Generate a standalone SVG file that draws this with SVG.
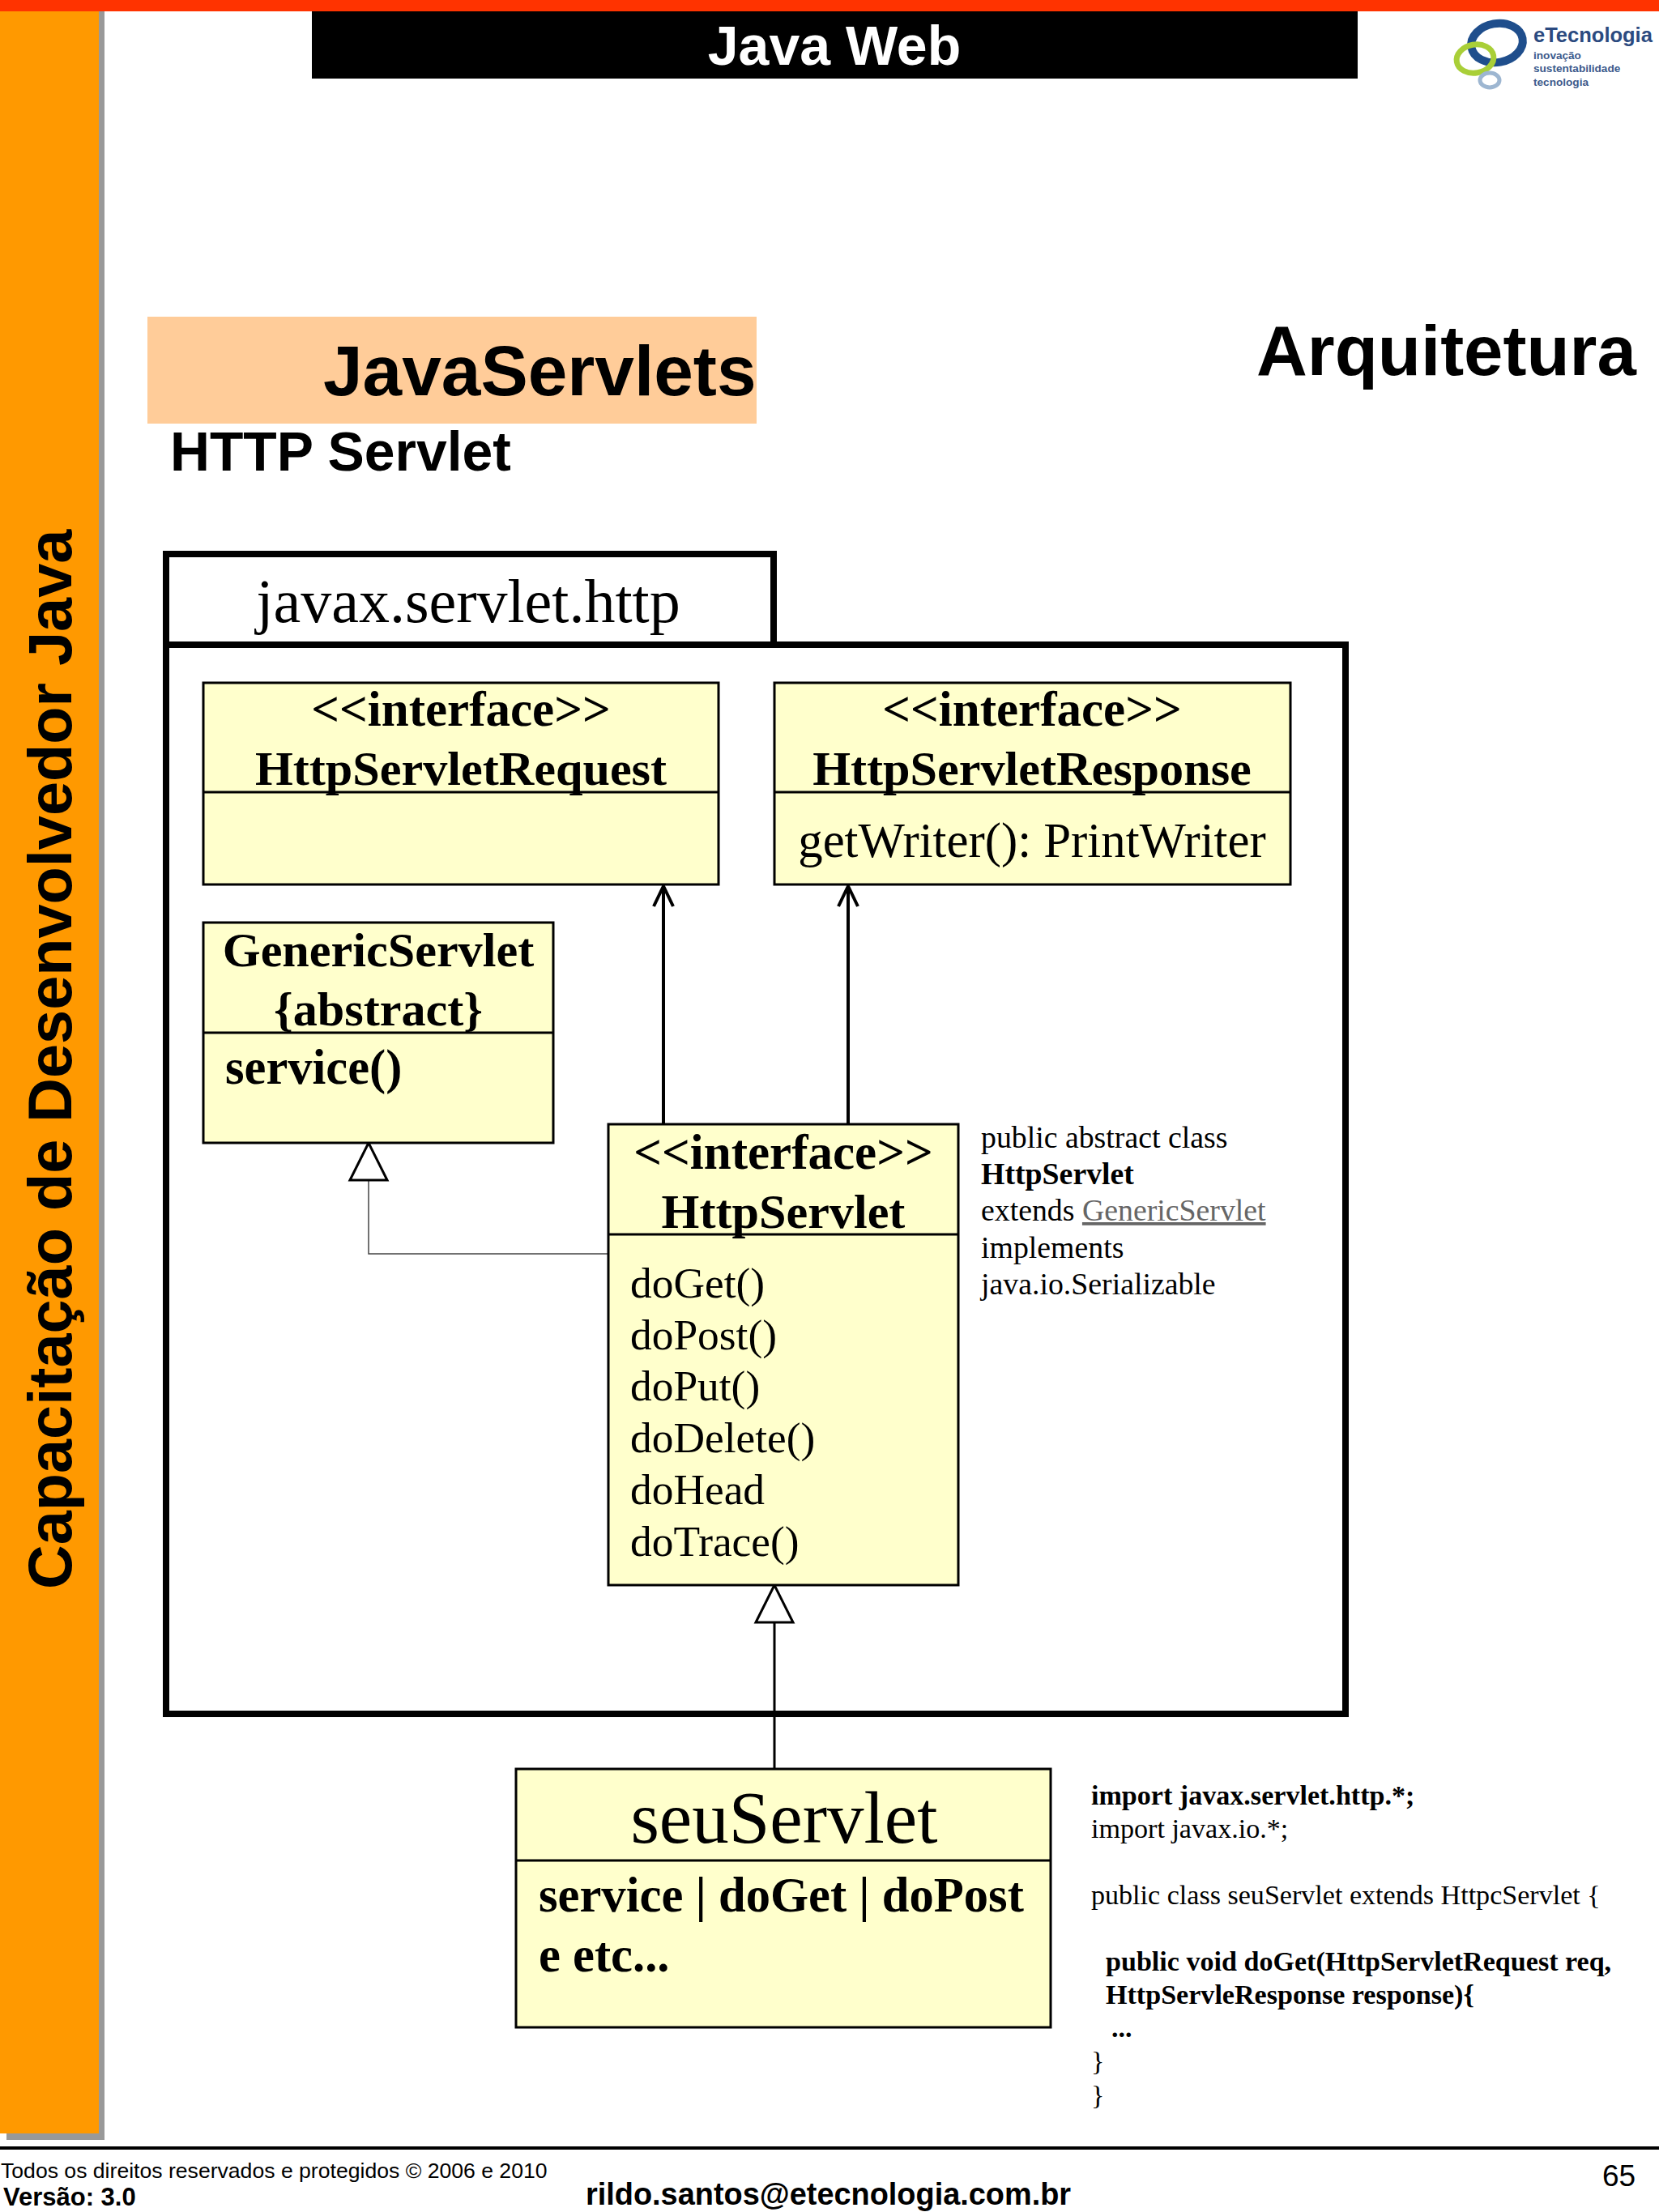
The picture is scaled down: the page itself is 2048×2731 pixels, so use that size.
<svg xmlns="http://www.w3.org/2000/svg" width="2048" height="2731" viewBox="0 0 2048 2731">
<style>
.s{font-family:"Liberation Serif",serif;fill:#000}
.a{font-family:"Liberation Sans",sans-serif;fill:#000}
.b{font-weight:bold}
.m{text-anchor:middle}
.box{fill:#ffffcc;stroke:#000;stroke-width:3}
.t61{font-size:61px}
.t60{font-size:60.200px}
.t53{font-size:53.400px}
.t38{font-size:37.800px}
.t34{font-size:34.100px}
.c{fill:none;stroke:#000;stroke-width:4}
.d{fill:none;stroke:#000;stroke-width:3}
.g{fill:none;stroke:#444;stroke-width:1.500}
</style>
<defs>
<marker id="open" markerUnits="userSpaceOnUse" markerWidth="32" markerHeight="28" refX="27" refY="14" orient="auto"><path d="M2 2L27 14L2 26" fill="none" stroke="#000" stroke-width="4"/></marker>
</defs>
<rect width="2048" height="2731" fill="#fff"/>
<g id="frame">
<rect x="8" y="0" width="121" height="2642" fill="#999"/>
<rect x="0" y="0" width="122" height="2634" fill="#ff9900"/>
<rect x="0" y="0" width="2048" height="14" fill="#ff3300"/>
<rect x="385" y="14" width="1291" height="83" fill="#000"/>
<text class="a b m" x="1030" y="80" font-size="68" style="fill:#fff">Java Web</text>
<text class="a b" transform="translate(88 1962) rotate(-90)" font-size="75.700">Capacitação de Desenvolvedor Java</text>
<rect x="0" y="2650" width="2048" height="4" fill="#000"/>
<text class="a" x="1" y="2689" font-size="26.600">Todos os direitos reservados e protegidos © 2006 e 2010</text>
<text class="a b" x="4" y="2723" font-size="31">Versão: 3.0</text>
<text class="a b" x="723" y="2722" font-size="37.900">rildo.santos@etecnologia.com.br</text>
<text class="a" x="1978" y="2699" font-size="37">65</text>
</g>
<g id="logo">
<ellipse cx="1848" cy="53" rx="32" ry="24" fill="none" stroke="#1f4e8c" stroke-width="10" transform="rotate(-10 1848 53)"/>
<ellipse cx="1821" cy="72.500" rx="23" ry="17.500" fill="none" stroke="#a9cf38" stroke-width="7" transform="rotate(-10 1821 72.500)"/>
<ellipse cx="1839" cy="99" rx="12" ry="9" fill="none" stroke="#9db6d1" stroke-width="5"/>
<text class="a b" x="1893" y="52" font-size="25.500" style="fill:#2b4a80">eTecnologia</text>
<text class="a b" x="1893" y="73" font-size="13.600" style="fill:#3c5a8c">inovação</text>
<text class="a b" x="1893" y="89" font-size="13.600" style="fill:#3c5a8c">sustentabilidade</text>
<text class="a b" x="1893" y="106" font-size="13.600" style="fill:#3c5a8c">tecnologia</text>
</g>
<g id="titles">
<rect x="182" y="391" width="752" height="132" fill="#ffcc99"/>
<text class="a b" x="399" y="488" font-size="87.400">JavaServlets</text>
<text class="a b" x="210" y="581" font-size="67.800">HTTP Servlet</text>
<text class="a b" x="1551" y="463" font-size="87">Arquitetura</text>
</g>
<g id="package">
<path d="M205 796V684H955V796M205 796H1661V2116H205Z" fill="none" stroke="#000" stroke-width="8"/>
<text class="s m" x="578" y="768" font-size="76">javax.servlet.http</text>
</g>
<g id="connectors">
<path class="c" d="M819 1388V1094" marker-end="url(#open)"/>
<path class="c" d="M1047 1388V1094" marker-end="url(#open)"/>
<path class="g" d="M751 1548H455V1457"/>
<path d="M455 1411L432 1457H478Z" fill="#fff" stroke="#000" stroke-width="3"/>
<path class="d" d="M956 2184V2003"/>
<path d="M956 1957L933 2003H979Z" fill="#fff" stroke="#000" stroke-width="3"/>
</g>
<g id="HttpServletRequest">
<rect class="box" x="251" y="843" width="636" height="249"/>
<path class="d" d="M251 978H887"/>
<text class="s b m t61" x="569" y="896">&lt;&lt;interface&gt;&gt;</text>
<text class="s b m t60" x="569" y="969">HttpServletRequest</text>
</g>
<g id="HttpServletResponse">
<rect class="box" x="956" y="843" width="637" height="249"/>
<path class="d" d="M956 978H1593"/>
<text class="s b m t61" x="1274" y="896">&lt;&lt;interface&gt;&gt;</text>
<text class="s b m t60" x="1274" y="969">HttpServletResponse</text>
<text class="s m" font-size="60.800" x="1274" y="1058">getWriter(): PrintWriter</text>
</g>
<g id="GenericServlet">
<rect class="box" x="251" y="1139" width="432" height="272"/>
<path class="d" d="M251 1275H683"/>
<text class="s b m t60" x="467" y="1193">GenericServlet</text>
<text class="s b m t60" x="467" y="1266">{abstract}</text>
<text class="s b" font-size="60.500" x="278" y="1338">service()</text>
</g>
<g id="HttpServlet">
<rect class="box" x="751" y="1388" width="432" height="569"/>
<path class="d" d="M751 1524H1183"/>
<text class="s b m t61" x="967" y="1443">&lt;&lt;interface&gt;&gt;</text>
<text class="s b m t60" x="967" y="1516">HttpServlet</text>
<text class="s t53" x="778" y="1602">doGet()</text>
<text class="s t53" x="778" y="1666">doPost()</text>
<text class="s t53" x="778" y="1729">doPut()</text>
<text class="s t53" x="778" y="1793">doDelete()</text>
<text class="s t53" x="778" y="1857">doHead</text>
<text class="s t53" x="778" y="1921">doTrace()</text>
</g>
<g id="seuServlet">
<rect class="box" x="637" y="2184" width="660" height="319"/>
<path class="d" d="M637 2297H1297"/>
<text class="s m" x="968" y="2275" font-size="91">seuServlet</text>
<text class="s b" font-size="60.600" x="665" y="2360">service | doGet | doPost</text>
<text class="s b" font-size="60.600" x="665" y="2434">e etc...</text>
</g>
<g id="note1">
<text class="s t38" x="1211" y="1417">public abstract class</text>
<text class="s b t38" x="1211" y="1462">HttpServlet</text>
<text class="s t38" x="1211" y="1507">extends <tspan fill="#666" text-decoration="underline">GenericServlet</tspan></text>
<text class="s t38" x="1211" y="1553">implements</text>
<text class="s t38" x="1211" y="1598">java.io.Serializable</text>
</g>
<g id="note2">
<text class="s b t34" x="1347" y="2228">import javax.servlet.http.*;</text>
<text class="s t34" x="1347" y="2269">import javax.io.*;</text>
<text class="s t34" x="1347" y="2351">public class seuServlet extends HttpcServlet {</text>
<text class="s b t34" x="1365" y="2433">public void doGet(HttpServletRequest req,</text>
<text class="s b t34" x="1365" y="2474">HttpServleResponse response){</text>
<text class="s b t34" x="1372" y="2515">...</text>
<text class="s t34" x="1347" y="2556">}</text>
<text class="s t34" x="1347" y="2598">}</text>
</g>
</svg>
